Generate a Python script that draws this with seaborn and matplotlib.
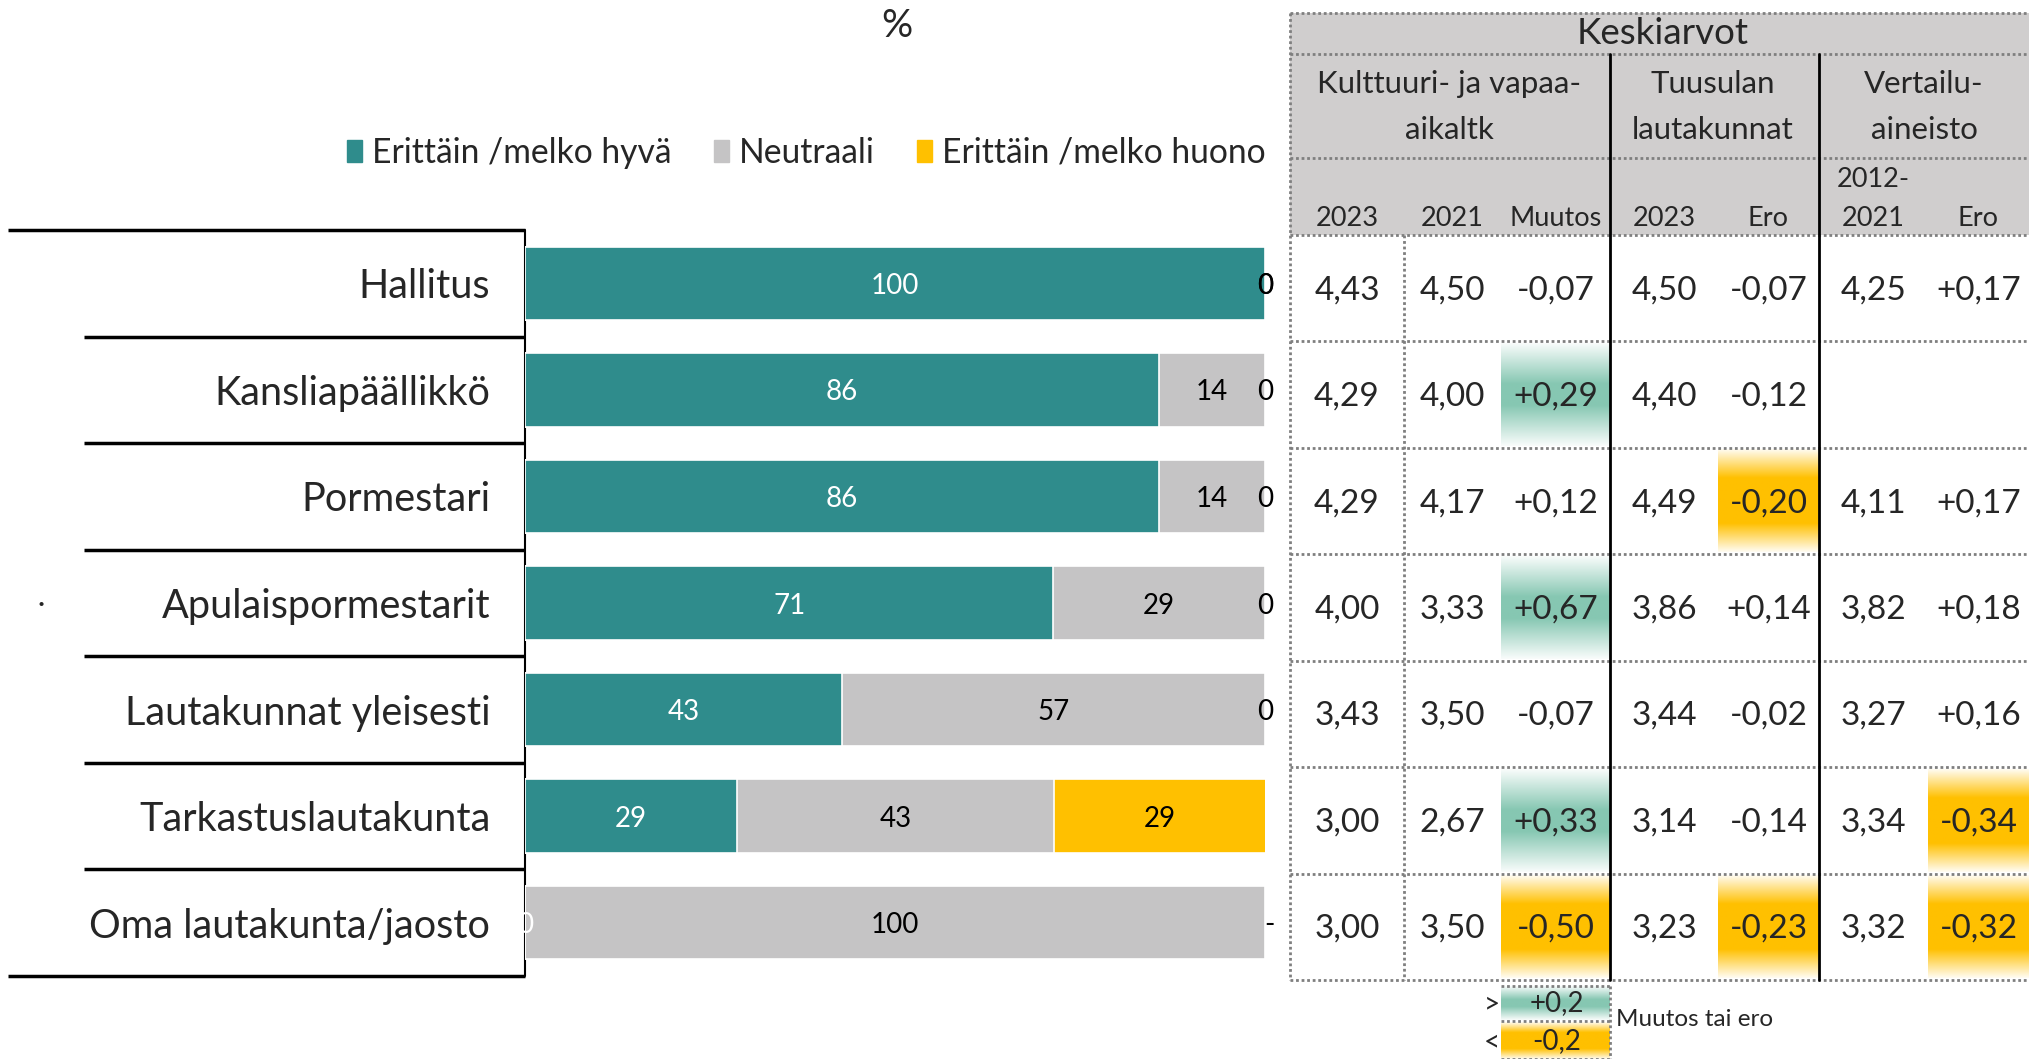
import numpy as np
import pandas as pd
import matplotlib
matplotlib.use('Agg')
import matplotlib.pyplot as plt
import seaborn as sns
from matplotlib.patches import Patch, Rectangle
from matplotlib.colors import to_rgb

# ---------------- data ----------------
categories = ['Hallitus', 'Kansliapäällikkö', 'Pormestari', 'Apulaispormestarit',
              'Lautakunnat yleisesti', 'Tarkastuslautakunta', 'Oma lautakunta/jaosto']
good = [100, 85.7, 85.7, 71.4, 42.9, 28.6, 0]
neutral = [0, 14.3, 14.3, 28.6, 57.1, 42.9, 100]
bad = [0, 0, 0, 0, 0, 28.6, np.nan]  # nan = no answer -> '-'
series_names = ['Erittäin /melko hyvä', 'Neutraali', 'Erittäin /melko huono']

kult_2023 = [4.43, 4.29, 4.29, 4.00, 3.43, 3.00, 3.00]
kult_2021 = [4.50, 4.00, 4.17, 3.33, 3.50, 2.67, 3.50]
kult_muutos = [-0.07, 0.29, 0.12, 0.67, -0.07, 0.33, -0.50]
tuus_2023 = [4.50, 4.40, 4.49, 3.86, 3.44, 3.14, 3.23]
tuus_ero = [-0.07, -0.12, -0.20, 0.14, -0.02, -0.14, -0.23]
vert_2012_2021 = [4.25, np.nan, 4.11, 3.82, 3.27, 3.34, 3.32]
vert_ero = [0.17, np.nan, 0.17, 0.18, 0.16, -0.34, -0.32]

TEAL = '#2F8C8C'
GRAY = '#C5C4C5'
YELLOW = '#FFC000'
GREEN_HI = '#86C7B2'
HEAD_BG = '#D0CECE'

sns.set_style('white')
plt.rcParams['font.family'] = ['Lato', 'DejaVu Sans']

W, H = 2029, 1059
fig = plt.figure(figsize=(W / 100, H / 100), dpi=100)

# overlay axes in pixel coordinates for table + decorations
ax0 = fig.add_axes([0, 0, 1, 1])
ax0.set_axis_off()

# ---------------- bar chart ----------------
df = pd.DataFrame({'cat': categories, 'good': good, 'neutral': neutral, 'bad': bad})
df['c1'] = df['good']
df['c2'] = df['good'] + df['neutral']
df['c3'] = df['c2'] + df['bad'].fillna(0)

bx0, bx1, by0, by1 = 525, 1265, 230, 976
ax = fig.add_axes([bx0 / W, 1 - by1 / H, (bx1 - bx0) / W, (by1 - by0) / H])
ax.patch.set_alpha(0)

# stacked bars: draw cumulative totals back to front
for col, c, name in [('c3', YELLOW, series_names[2]), ('c2', GRAY, series_names[1]),
                     ('c1', TEAL, series_names[0])]:
    sns.barplot(data=df, x=col, y='cat', color=c, saturation=1, width=0.69,
                errorbar=None, edgecolor='white', linewidth=1.2, ax=ax, label=name)

ax.set_xlim(0, 100)
ax.set_ylim(6.5, -0.5)
ax.set_xlabel('')
ax.set_ylabel('')
ax.set_xticks([])
ax.tick_params(axis='y', length=0, pad=25, labelsize=28.5)
for s in ax.spines.values():
    s.set_visible(False)
if ax.get_legend() is not None:
    ax.get_legend().remove()

lab_kw = dict(ha='center', va='center_baseline', fontsize=20)
for i, r in df.iterrows():
    ax.text(r['good'] / 2, i, f"{r['good']:.0f}", color='white', **lab_kw)
    ax.text(r['good'] + r['neutral'] / 2, i, f"{r['neutral']:.0f}", color='black', **lab_kw)
    if np.isnan(r['bad']):
        ax.text(100.6, i, '-', color='black', clip_on=False, **lab_kw)
    else:
        ax.text(r['c2'] + r['bad'] / 2, i, f"{r['bad']:.0f}", color='black', clip_on=False, **lab_kw)

# label panel lines
edges = np.linspace(by0, by1, len(categories) + 1)
for k, y in enumerate(edges):
    xs = 8 if k in (0, len(edges) - 1) else 84
    ax0.plot([xs, bx0], [y, y], color='black', lw=2.5, solid_capstyle='butt')
ax0.plot([bx0, bx0], [by0, by1], color='black', lw=1.5)
ax0.text(41, 604, '·', ha='center', va='center', fontsize=20)

# legend
handles = [Patch(color=c) for c in (TEAL, GRAY, YELLOW)]
fig.legend(handles, series_names, loc='center left', bbox_to_anchor=(347 / W, 1 - 153 / H),
           ncol=3, frameon=False, fontsize=24.2, handlelength=0.45, handleheight=0.6,
           handletextpad=0.3, columnspacing=1.25, borderpad=0, borderaxespad=0)
ax0.text(897, 26, '%', ha='center', va='center', fontsize=28)

# ---------------- table ----------------
def gradient(x0, x1, y0, y1, color, k=1.5):
    t = np.linspace(0, 1, 200)
    w = np.clip((1 - np.abs(2 * t - 1)) * k + 0.05, 0, 1)
    rgb = np.array(to_rgb(color))
    img = (1 - w)[:, None] * np.ones(3) + w[:, None] * rgb
    ax0.imshow(img[:, None, :], extent=(x0, x1, y1, y0), aspect='auto',
               interpolation='bilinear', zorder=1)

dotted = dict(color='#7F7F7F', lw=2, linestyle=(0, (1, 1)), zorder=3)
tx0, tx1 = 1290, 2029
col_edges = [1290, 1404, 1501, 1610, 1718, 1819, 1928, 2029]
col_mid = [(a + b) / 2 for a, b in zip(col_edges[:-1], col_edges[1:])]
row_edges = np.linspace(235, 980, len(categories) + 1)

ax0.add_patch(Rectangle((tx0, 13), tx1 - tx0, 235 - 13, fc=HEAD_BG, ec='none', zorder=0))
for y in [13, 54, 158] + list(row_edges):
    ax0.plot([tx0, tx1], [y, y], **dotted)
ax0.plot([tx0, tx0], [13, 980], **dotted)
ax0.plot([1404, 1404], [235, 980], **dotted)
for x in (1610, 1819):
    ax0.plot([x, x], [54, 980], color='black', lw=2, zorder=3)

ax0.text(1663, 34, 'Keskiarvot', ha='center', va='center', fontsize=26.5)
hdr_kw = dict(ha='center', va='center', fontsize=22.5, linespacing=1.8)
ax0.text(1449, 107, 'Kulttuuri- ja vapaa-\naikaltk', **hdr_kw)
ax0.text(1713, 107, 'Tuusulan\nlautakunnat', **hdr_kw)
ax0.text(1924, 107, 'Vertailu-\naineisto', **hdr_kw)
sub_hdr = ['2023', '2021', 'Muutos', '2023', 'Ero', '2021', 'Ero']
sub_hdr_top = ['', '', '', '', '', '2012-', '']
for x, s, s2 in zip(col_mid, sub_hdr, sub_hdr_top):
    ax0.text(x, 226, s, ha='center', va='baseline', fontsize=19.5)
    if s2:
        ax0.text(x, 187, s2, ha='center', va='baseline', fontsize=19.5)

columns = [kult_2023, kult_2021, kult_muutos, tuus_2023, tuus_ero, vert_2012_2021, vert_ero]
diff_cols = {2, 4, 6}
for j, vals in enumerate(columns):
    for i, v in enumerate(vals):
        if np.isnan(v):
            continue
        y0, y1 = row_edges[i], row_edges[i + 1]
        if j in diff_cols:
            s = f'{v:+.2f}'.replace('.', ',')
            if round(v, 2) >= 0.2:
                gradient(col_edges[j], col_edges[j + 1], y0 + 2, y1 - 2, GREEN_HI, 1.2)
            elif round(v, 2) <= -0.2:
                gradient(col_edges[j], col_edges[j + 1], y0 + 2, y1 - 2, YELLOW, 1.7)
        else:
            s = f'{v:.2f}'.replace('.', ',')
        ax0.text(col_mid[j], (y0 + y1) / 2 + 2, s, ha='center', va='center', fontsize=24, zorder=4)

# colour key below table
gradient(1501, 1610, 986, 1020, GREEN_HI, 1.2)
gradient(1501, 1610, 1022, 1059, YELLOW, 1.7)
for y in (986, 1021, 1059):
    ax0.plot([1501, 1610], [y, y], **dotted)
ax0.plot([1610, 1610], [986, 1059], **dotted)
ax0.text(1557, 1003, '+0,2', ha='center', va='center', fontsize=20, zorder=4)
ax0.text(1557, 1041, '-0,2', ha='center', va='center', fontsize=20, zorder=4)
ax0.text(1492, 1004, '>', ha='center', va='center', fontsize=20)
ax0.text(1492, 1042, '<', ha='center', va='center', fontsize=20)
ax0.text(1616, 1020, 'Muutos tai ero', ha='left', va='center', fontsize=17.5)

ax0.set_xlim(0, W)
ax0.set_ylim(H, 0)

fig.savefig('out.png', dpi=100)
plt.close(fig)
